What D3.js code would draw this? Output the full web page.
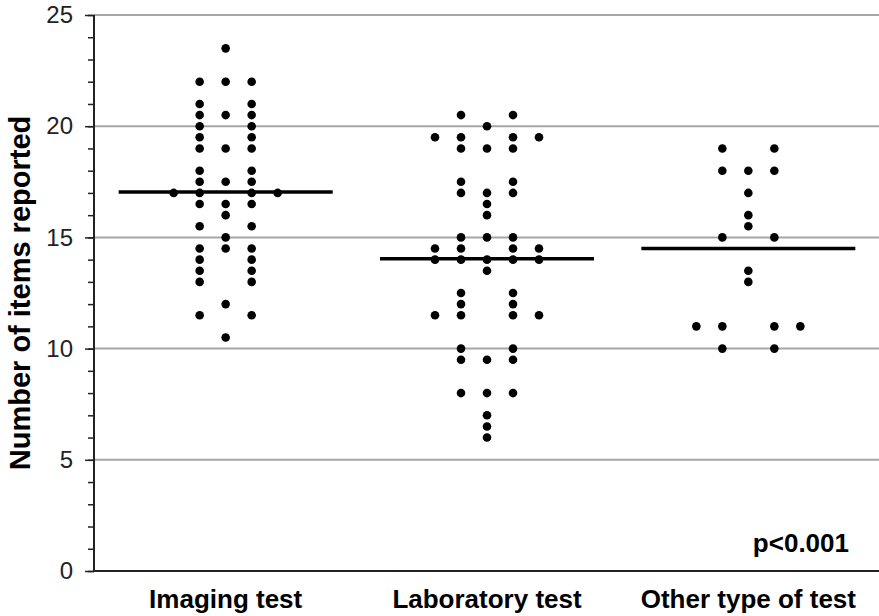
<!DOCTYPE html>
<html>
<head>
<meta charset="utf-8">
<script src="https://cdn.jsdelivr.net/npm/d3@7"></script>
<style>
  html, body { margin: 0; padding: 0; background: #fff; }
  svg { display: block; font-family: "Liberation Sans", Arial, sans-serif; }
</style>
</head>
<body>
<svg id="chart" width="879" height="616"></svg>
<script>
// Number of reporting items per study, by type of diagnostic test
const categories = ["Imaging test", "Laboratory test", "Other type of test"];

const imagingValues = [
  23.5,
  22, 22, 22,
  21, 21,
  20.5, 20.5, 20.5,
  20, 20,
  19.5, 19.5,
  19, 19, 19,
  18, 18,
  17.5, 17.5, 17.5,
  17, 17, 17, 17,
  16.5, 16.5, 16.5,
  16,
  15.5, 15.5,
  15,
  14.5, 14.5, 14.5,
  14, 14,
  13.5, 13.5,
  13, 13,
  12,
  11.5, 11.5,
  10.5
];

const laboratoryValues = [
  20.5, 20.5,
  20,
  19.5, 19.5, 19.5, 19.5,
  19, 19, 19,
  17.5, 17.5,
  17, 17, 17,
  16.5,
  16,
  15, 15, 15,
  14.5, 14.5, 14.5, 14.5,
  14, 14, 14, 14, 14,
  13.5,
  12.5, 12.5,
  12, 12,
  11.5, 11.5, 11.5, 11.5,
  10, 10,
  9.5, 9.5, 9.5,
  8, 8, 8,
  7,
  6.5,
  6
];

const otherValues = [
  19, 19,
  18, 18, 18,
  17,
  16,
  15.5,
  15, 15,
  13.5,
  13,
  11, 11, 11, 11,
  10, 10
];

const yTicks = [0, 5, 10, 15, 20, 25];
const pLabel = "p<0.001";
const yTitle = "Number of items reported";

const groups = [imagingValues, laboratoryValues, otherValues];

const svg = d3.select("#chart");
const margin = { left: 94, right: 0, top: 15, bottom: 45 };
const W = 879, H = 616;

const x = d3.scaleBand()
  .domain(categories)
  .range([margin.left + 1, W])
  .padding(0);

const y = d3.scaleLinear()
  .domain([0, 25])
  .range([H - margin.bottom, margin.top]);

// horizontal gridlines at major ticks
svg.append("g")
  .selectAll("line")
  .data(yTicks.filter(d => d > 0))
  .join("line")
  .attr("x1", margin.left)
  .attr("x2", W)
  .attr("y1", d => y(d))
  .attr("y2", d => y(d))
  .attr("stroke", "#a6a6a6")
  .attr("stroke-width", 2);

// y axis: minor ticks each unit, major ticks with labels
const yAxisMinor = d3.axisLeft(y)
  .tickValues(d3.range(0, 26, 1))
  .tickSize(6)
  .tickFormat("");
const gMinor = svg.append("g")
  .attr("transform", `translate(${margin.left},0)`)
  .call(yAxisMinor);
gMinor.select(".domain").remove();
gMinor.selectAll("line").attr("stroke", "#222").attr("stroke-width", 1.5);

const yAxis = d3.axisLeft(y)
  .tickValues(yTicks)
  .tickSize(9)
  .tickPadding(12)
  .tickFormat(d3.format("d"));
const gY = svg.append("g")
  .attr("transform", `translate(${margin.left},0)`)
  .call(yAxis);
gY.select(".domain")
  .attr("stroke", "#222")
  .attr("stroke-width", 2)
  .attr("d", `M0,${y(25)}V${y(0)}`);
gY.selectAll(".tick line").attr("stroke", "#222").attr("stroke-width", 1.5);
gY.selectAll(".tick text")
  .attr("font-size", 24)
  .attr("fill", "#222")
  .attr("font-family", "Liberation Sans, Arial, sans-serif");

// x axis baseline and category labels
const xAxis = d3.axisBottom(x).tickSize(0).tickPadding(19);
const gX = svg.append("g")
  .attr("transform", `translate(0,${y(0)})`)
  .call(xAxis);
gX.select(".domain")
  .attr("stroke", "#222")
  .attr("stroke-width", 2)
  .attr("d", `M${margin.left},0H${W}`);
gX.selectAll(".tick text")
  .attr("font-size", 26)
  .attr("font-weight", "bold")
  .attr("fill", "#000")
  .attr("font-family", "Liberation Sans, Arial, sans-serif");

// dot positions: values sharing a row spread sideways from the column centre
const dotStep = 26;
function layoutDots(values, cat) {
  const rows = d3.group(values, v => v);
  const out = [];
  for (const [v, arr] of rows) {
    const n = arr.length;
    const slots = [];
    if (n % 2 === 1) slots.push(0);
    for (let k = 1; slots.length < n; k++) slots.push(-k, k);
    slots.forEach(s => out.push({ cat, v, s }));
  }
  return out;
}

const dots = groups.flatMap((vals, i) => layoutDots(vals, categories[i]));

// mean lines
const lineHalf = 107;
svg.append("g")
  .selectAll("line")
  .data(groups.map((vals, i) => ({ cat: categories[i], m: d3.mean(vals) })))
  .join("line")
  .attr("x1", d => x(d.cat) + x.bandwidth() / 2 - lineHalf)
  .attr("x2", d => x(d.cat) + x.bandwidth() / 2 + lineHalf)
  .attr("y1", d => y(d.m))
  .attr("y2", d => y(d.m))
  .attr("stroke", "#000")
  .attr("stroke-width", 3.5);

svg.append("g")
  .selectAll("circle")
  .data(dots)
  .join("circle")
  .attr("cx", d => x(d.cat) + x.bandwidth() / 2 + d.s * dotStep)
  .attr("cy", d => y(d.v))
  .attr("r", 4.3)
  .attr("fill", "#000");

// y axis title
svg.append("text")
  .attr("transform", `translate(30,${(y(0) + y(25)) / 2}) rotate(-90)`)
  .attr("text-anchor", "middle")
  .attr("font-size", 29)
  .attr("font-weight", "bold")
  .attr("fill", "#000")
  .text(yTitle);

// significance note
svg.append("text")
  .attr("x", 849)
  .attr("y", 552)
  .attr("text-anchor", "end")
  .attr("font-size", 26)
  .attr("font-weight", "bold")
  .attr("fill", "#000")
  .text(pLabel);
</script>
</body>
</html>
